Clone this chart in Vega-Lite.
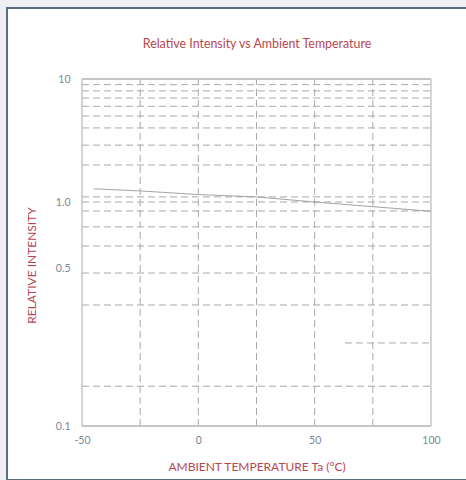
{
  "$schema": "https://vega.github.io/schema/vega-lite/v6.json",
  "width": 460,
  "height": 472,
  "autosize": {"type": "none"},
  "padding": {"left": 7, "top": 8, "right": 0, "bottom": 0},
  "background": "#eef0f3",
  "view": {"fill": "#ffffff", "stroke": "#5b6d84", "strokeWidth": 2},
  "title": {
    "text": "Relative Intensity vs Ambient Temperature",
    "font": "Lato",
    "fontSize": 12.4,
    "fontWeight": "normal",
    "color": "#b5484f",
    "anchor": "middle",
    "frame": "group",
    "offset": 0,
    "baseline": "alphabetic",
    "dx": 20,
    "dy": 52
  },
  "datasets": {
    "curve": [
      {"ta": -45, "ri": 1.28},
      {"ta": -25, "ri": 1.23},
      {"ta": 0, "ri": 1.15},
      {"ta": 25, "ri": 1.1},
      {"ta": 50, "ri": 1.0},
      {"ta": 75, "ri": 0.952},
      {"ta": 100, "ri": 0.907}
    ],
    "hgrid": [
      {"v": 9}, {"v": 8}, {"v": 7}, {"v": 6}, {"v": 5}, {"v": 4}, {"v": 2.9}, {"v": 2},
      {"v": 1.1}, {"v": 1.0}, {"v": 0.91}, {"v": 0.77}, {"v": 0.63},
      {"v": 0.475}, {"v": 0.343}, {"v": 0.15}
    ],
    "hgridShort": [{"v": 0.233}],
    "vgrid": [{"t": -25}, {"t": 0}, {"t": 25}, {"t": 50}, {"t": 75}],
    "frameV": [{"t": -50}, {"t": 100}],
    "frameH": [{"v": 0.1}, {"v": 10}]
  },
  "layer": [
    {
      "data": {"name": "hgrid"},
      "mark": {"type": "rule", "color": "#a9a9a9", "strokeWidth": 1, "strokeDash": [7, 4]},
      "encoding": {
        "y": {"field": "v", "type": "quantitative",
              "scale": {"type": "log", "domain": [0.1, 0.5, 1, 10], "range": [418, 260, 194, 71], "nice": false}},
        "x": {"datum": -50, "type": "quantitative",
              "scale": {"domain": [-50, 100], "range": [75, 424], "nice": false, "zero": false}},
        "x2": {"datum": 100}
      }
    },
    {
      "data": {"name": "hgridShort"},
      "mark": {"type": "rule", "color": "#a9a9a9", "strokeWidth": 1, "strokeDash": [7, 4]},
      "encoding": {
        "y": {"field": "v", "type": "quantitative"},
        "x": {"datum": 63, "type": "quantitative"},
        "x2": {"datum": 100}
      }
    },
    {
      "data": {"name": "vgrid"},
      "mark": {"type": "rule", "color": "#a9a9a9", "strokeWidth": 1, "strokeDash": [7, 4]},
      "encoding": {
        "x": {"field": "t", "type": "quantitative"},
        "y": {"datum": 0.1, "type": "quantitative"},
        "y2": {"datum": 10}
      }
    },
    {
      "data": {"name": "frameV"},
      "mark": {"type": "rule", "color": "#c6c6c6", "strokeWidth": 1.5},
      "encoding": {
        "x": {"field": "t", "type": "quantitative"},
        "y": {"datum": 0.1, "type": "quantitative"},
        "y2": {"datum": 10}
      }
    },
    {
      "data": {"name": "frameH"},
      "mark": {"type": "rule", "color": "#c6c6c6", "strokeWidth": 2},
      "encoding": {
        "y": {"field": "v", "type": "quantitative"},
        "x": {"datum": -50, "type": "quantitative"},
        "x2": {"datum": 100}
      }
    },
    {
      "data": {"name": "curve"},
      "mark": {"type": "line", "color": "#a3a3a3", "strokeWidth": 1},
      "encoding": {
        "x": {
          "field": "ta", "type": "quantitative",
          "axis": {
            "orient": "bottom", "offset": -54, "values": [-50, 0, 50, 100],
            "labelExpr": "datum.value < 0 ? '-' + abs(datum.value) : '' + datum.value",
            "domain": false, "ticks": false, "grid": false,
            "labelFont": "Lato", "labelFontSize": 10.5, "labelColor": "#7b8798",
            "labelPadding": 9, "labelFlush": false,
            "title": "AMBIENT TEMPERATURE Ta (°C)",
            "titleFont": "Lato", "titleFontSize": 12, "titleFontWeight": "normal",
            "titleColor": "#b5484f", "titlePadding": 16
          }
        },
        "y": {
          "field": "ri", "type": "quantitative",
          "axis": {
            "orient": "left", "offset": -75, "values": [0.1, 0.5, 1, 10],
            "labelExpr": "datum.value >= 10 ? '10' : format(datum.value, '.1f')",
            "domain": false, "ticks": false, "grid": false,
            "labelFont": "Lato", "labelFontSize": 10.5, "labelColor": "#7b8798",
            "labelPadding": 12, "labelFlush": false,
            "title": "RELATIVE INTENSITY",
            "titleFont": "Lato", "titleFontSize": 12, "titleFontWeight": "normal",
            "titleColor": "#b5484f", "titleX": -51, "titleY": 257, "titleBaseline": "middle", "titleAngle": -90
          }
        }
      }
    }
  ]
}
